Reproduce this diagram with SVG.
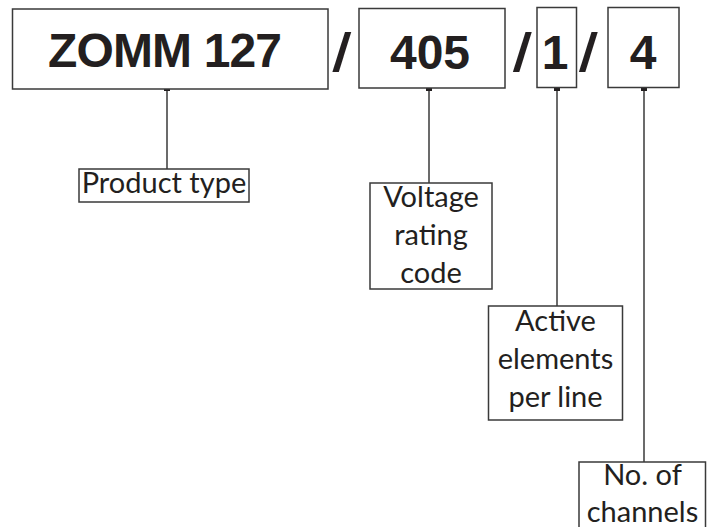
<svg xmlns="http://www.w3.org/2000/svg" width="712" height="527" viewBox="0 0 712 527">
<defs>
<style>
.box{fill:#fff;stroke:#3a3a3a;stroke-width:1.5}
.code{font-family:"Liberation Sans",Arial,sans-serif;font-weight:bold;font-size:48px;fill:#231f20;text-anchor:middle}
.sl{font-family:"Liberation Sans",Arial,sans-serif;font-weight:bold;font-size:54px;fill:#231f20}
.lbl{font-family:Lato,"Noto Sans",sans-serif;font-size:29px;fill:#231f20;text-anchor:middle}
.con{stroke:#3a3a3a;stroke-width:1.5;fill:none}
.dot{fill:#231f20}
</style>
</defs>
<rect width="712" height="527" fill="#fff"/>
<g id="connectors">
<line class="con" x1="167" y1="88" x2="167" y2="169"/>
<line class="con" x1="429" y1="88" x2="429" y2="183"/>
<line class="con" x1="557" y1="88" x2="557" y2="306"/>
<line class="con" x1="644" y1="88" x2="644" y2="462"/>
<rect class="dot" x="164" y="85" width="6" height="6"/>
<rect class="dot" x="426" y="85" width="6" height="6"/>
<rect class="dot" x="554" y="85" width="6" height="6"/>
<rect class="dot" x="641" y="85" width="6" height="6"/>
</g>
<g id="code-zomm">
<rect class="box" x="12.5" y="9" width="315.5" height="80"/>
<text class="code" x="165" y="67" textLength="234">ZOMM 127</text>
</g>
<text class="sl" transform="translate(332,71) skewX(-7)">/</text>
<g id="code-405">
<rect class="box" x="359" y="8.5" width="146" height="79.5"/>
<text class="code" x="430" y="69">405</text>
</g>
<text class="sl" transform="translate(512.5,71) skewX(-7)">/</text>
<g id="code-1">
<rect class="box" x="537" y="7.5" width="39.5" height="80"/>
<text class="code" x="555" y="69">1</text>
</g>
<text class="sl" transform="translate(578.5,71) skewX(-7)">/</text>
<g id="code-4">
<rect class="box" x="608" y="7.5" width="71" height="80"/>
<text class="code" x="643" y="69">4</text>
</g>
<g id="label-product">
<rect class="box" x="79" y="169" width="170" height="33"/>
<text class="lbl" x="164" y="193">Product type</text>
</g>
<g id="label-voltage">
<rect class="box" x="370" y="183" width="122" height="106"/>
<text class="lbl" x="431" y="207">Voltage</text>
<text class="lbl" x="431" y="245">rating</text>
<text class="lbl" x="431" y="283">code</text>
</g>
<g id="label-active">
<rect class="box" x="488.5" y="306" width="134" height="114"/>
<text class="lbl" x="555.5" y="331">Active</text>
<text class="lbl" x="555.5" y="369">elements</text>
<text class="lbl" x="555.5" y="407">per line</text>
</g>
<g id="label-channels">
<rect class="box" x="579" y="462" width="126.5" height="80"/>
<text class="lbl" x="642.5" y="485">No. of</text>
<text class="lbl" x="642.5" y="522">channels</text>
</g>
</svg>
